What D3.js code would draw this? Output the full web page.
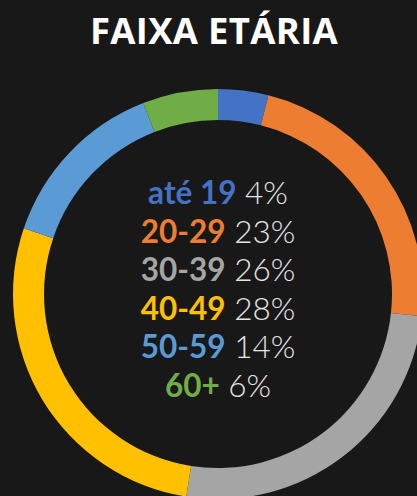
<!DOCTYPE html>
<html>
<head>
<meta charset="utf-8">
<script src="https://cdn.jsdelivr.net/npm/d3@7"></script>
<style>
    html, body { margin: 0; padding: 0; background: #181818; }
    svg { display: block; }
</style>
</head>
<body>
<svg id="chart"></svg>
<script>
const categories = ["até 19", "20-29", "30-39", "40-49", "50-59", "60+"],
    values = [4, 23, 26, 28, 14, 6],
    colors = ["#4472C4", "#ED7D31", "#A5A5A5", "#FFC000", "#5B9BD5", "#70AD47"];

const width = 417,
    height = 496,
    cx = 218,
    cy = 294,
    outerRadius = 205,
    innerRadius = 174;

const svg = d3.select("#chart")
    .attr("width", width)
    .attr("height", height);

svg.append("rect")
    .attr("width", width)
    .attr("height", height)
    .attr("fill", "#181818");

svg.append("text")
    .attr("x", 214)
    .attr("y", 44)
    .attr("text-anchor", "middle")
    .attr("font-family", "'Open Sans', sans-serif")
    .attr("font-weight", 700)
    .attr("font-size", 36.5)
    .attr("letter-spacing", 0.3)
    .attr("fill", "#ffffff")
    .text("FAIXA ETÁRIA");

const pieData = d3.pie()
    .sort(null)
    .value(function (d) { return d; })(values);

const arc = d3.arc()
    .innerRadius(innerRadius)
    .outerRadius(outerRadius);

const g = svg.append("g")
    .attr("transform", "translate(" + cx + "," + cy + ")");

g.selectAll("path")
    .data(pieData)
    .enter()
    .append("path")
    .attr("d", arc)
    .attr("fill", function (d, i) { return colors[i]; });

// Legend in the middle of the ring
const lineY = d3.scalePoint()
    .domain(categories)
    .range([204, 397]);

const labels = svg.append("g")
    .attr("font-family", "Lato, sans-serif")
    .attr("font-size", 31.5)
    .selectAll("text")
    .data(categories)
    .enter()
    .append("text")
    .attr("x", cx)
    .attr("y", function (d) { return lineY(d); })
    .attr("text-anchor", "middle");

labels.append("tspan")
    .attr("font-weight", 700)
    .attr("fill", function (d, i) { return colors[i]; })
    .text(function (d) { return d; });

labels.append("tspan")
    .attr("font-weight", 300)
    .attr("fill", "#e6e6e6")
    .text(function (d, i) { return " " + values[i] + "%"; });
</script>
</body>
</html>
